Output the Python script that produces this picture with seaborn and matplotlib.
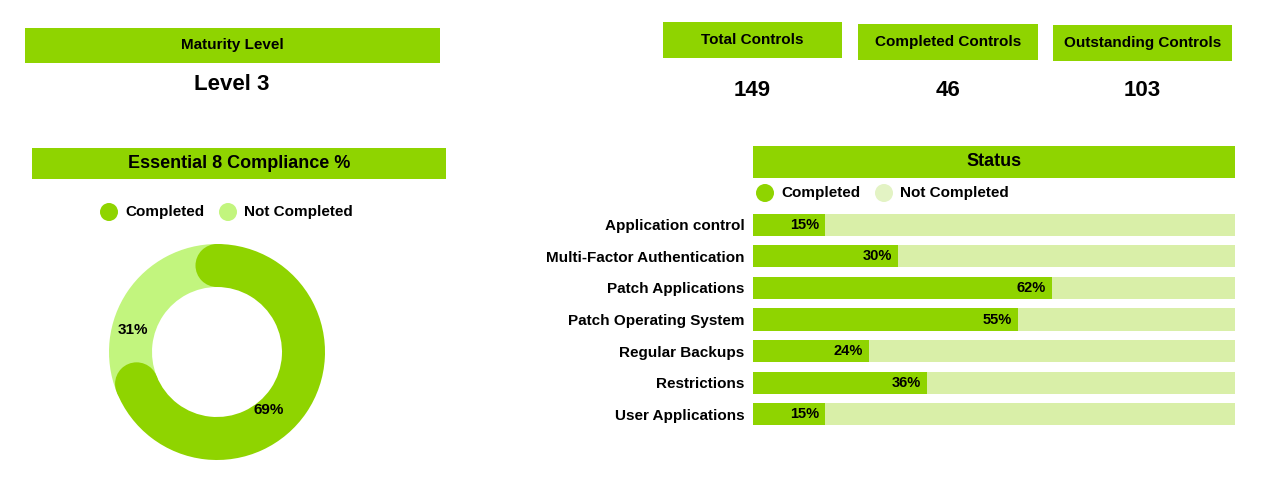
import matplotlib
matplotlib.use("Agg")
import matplotlib.pyplot as plt
from matplotlib.patches import Rectangle, Wedge, Circle
import seaborn as sns
import pandas as pd
import numpy as np

maturity_level = "Level 3"
kpi_labels = ["Total Controls", "Completed Controls", "Outstanding Controls"]
kpi_values = [149, 46, 103]
donut_labels = ["Completed", "Not Completed"]
donut_values = [69, 31]
categories = ["Application control", "Multi-Factor Authentication", "Patch Applications",
              "Patch Operating System", "Regular Backups", "Restrictions", "User Applications"]
completed_pct = [15, 30, 62, 55, 24, 36, 15]

GREEN = "#8fd400"
LIGHT = "#c2f57e"
BARBG = "#d9efa8"
W, H = 1279, 493
plt.rcParams["font.family"] = "Liberation Sans"
fig = plt.figure(figsize=(W/100, H/100), dpi=100)
bg = fig.add_axes([0, 0, 1, 1]); bg.set_xlim(0, W); bg.set_ylim(H, 0); bg.axis("off")

def box(x0, y0, x1, y1, text, fs=11):
    bg.add_patch(Rectangle((x0, y0), x1-x0, y1-y0, color=GREEN, lw=0))
    bg.text((x0+x1)/2, (y0+y1)/2, text, ha="center", va="center", fontsize=fs, fontweight="bold")

box(25, 28, 440, 63, "Maturity Level", 11)
bg.text(232, 84, maturity_level, ha="center", va="center", fontsize=16, fontweight="bold")
box(32, 148, 446, 179, "Essential 8 Compliance %", 13)
kb = [(663, 22, 842, 58), (858, 24, 1038, 60), (1053, 25, 1232, 61)]
for (x0, y0, x1, y1), l, v in zip(kb, kpi_labels, kpi_values):
    box(x0, y0, x1, y1, l, 11)
    bg.text((x0+x1)/2, 91, str(v), ha="center", va="center", fontsize=16, fontweight="bold")
box(753, 146, 1235, 178, "Status", 13)

def legend(items, y):
    for x, c, t in items:
        bg.add_patch(Circle((x, y), 9, color=c, lw=0))
        bg.text(x+16, y, t, ha="left", va="center", fontsize=11, fontweight="bold")
legend([(109, GREEN, donut_labels[0]), (228, LIGHT, donut_labels[1])], 212)
legend([(765, GREEN, "Completed"), (884, "#e3f3c4", "Not Completed")], 193)

# donut
cx, cy, ro, ri = 217, 352, 108, 65
rm, wd = (ro+ri)/2, ro-ri
start = 90
ang = [v/sum(donut_values)*360 for v in donut_values]
bg.add_patch(Wedge((cx, cy), ro, -(start - ang[0]) , -(start - 360) , width=wd, color=LIGHT, lw=0))
# in inverted y, angles flip; draw completed clockwise from top
t1, t0 = -start, -start + ang[0]
bg.add_patch(Wedge((cx, cy), ro, t1, t0, width=wd, color=GREEN, lw=0))
for a in [t1, t0]:
    r = np.deg2rad(a)
    bg.add_patch(Circle((cx+rm*np.cos(r), cy+rm*np.sin(r)), wd/2, color=GREEN, lw=0))
bg.text(269, 410, f"{donut_values[0]}%", ha="center", va="center", fontsize=11, fontweight="bold")
bg.text(133, 330, f"{donut_values[1]}%", ha="center", va="center", fontsize=11, fontweight="bold")

# bars
ax = fig.add_axes([753/W, 1-430/H, (1235-753)/W, (430-209)/H])
df = pd.DataFrame({"cat": categories, "pct": completed_pct, "full": [100]*len(categories)})
sns.barplot(data=df, y="cat", x="full", color=BARBG, ax=ax, width=0.7, saturation=1)
sns.barplot(data=df, y="cat", x="pct", color=GREEN, ax=ax, width=0.7, saturation=1)
ax.set_xlim(0, 100)
for i, p in enumerate(completed_pct):
    ax.text(p - 1.2, i, f"{p}%", ha="right", va="center", fontsize=10.5, fontweight="bold")
ax.set_xlabel(""); ax.set_ylabel(""); ax.set_xticks([])
ax.tick_params(axis="y", length=0, pad=6, labelsize=11)
for l in ax.get_yticklabels(): l.set_fontweight("bold")
for s in ax.spines.values(): s.set_visible(False)
fig.savefig("out.png", dpi=100)
